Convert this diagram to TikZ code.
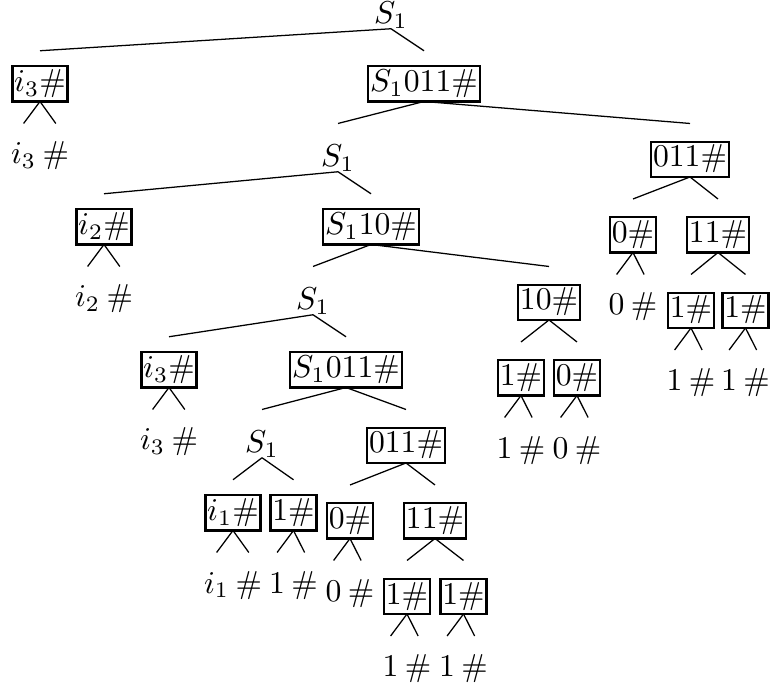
\documentclass[tikz,border=0pt]{standalone}
\usetikzlibrary{calc}
\tikzset{
  x=0.3155pt, y=-0.3155pt,
  bx/.style={draw, line width=0.75pt, inner xsep=0.6pt, inner ysep=0pt,
             text height=7.95pt, text depth=3.15pt, outer sep=0pt, anchor=base},
  tx/.style={inner sep=0pt, outer sep=0pt, anchor=base},
  br/.style={line width=0.4pt}
}
\newcommand\edg[2]{\draw[br] (#1.south) -- ($(#1.south -| #2)+(0,22)$);}
\begin{document}
\begin{tikzpicture}
\useasboundingbox (0,0) rectangle (770,687);
% level 0
\node[tx] (r) at (391,24) {$S_1$};
% level 1
\node[bx] (a) at (40,91.5) {$i_3\#$};
\node[bx] (b) at (424,91.5) {$S_1011\#$};
\edg{r}{a}\edg{r}{b}
% under a
\node[tx] (a1) at (23.6,164) {$i_3$};
\node[tx] (a2) at (55.8,164) {$\#$};
\edg{a}{a1}\edg{a}{a2}
% under b
\node[tx] (c) at (338,167) {$S_1$};
\node[bx] (d) at (690,167) {$011\#$};
\edg{b}{c}\edg{b}{d}
% under c
\node[bx] (e) at (104,234.5) {$i_2\#$};
\node[bx] (f) at (371,234.5) {$S_110\#$};
\edg{c}{e}\edg{c}{f}
% under d
\node[bx] (g) at (633,242.5) {$0\#$};
\node[bx] (h) at (718,242.5) {$11\#$};
\edg{d}{g}\edg{d}{h}
% under e
\node[tx] (e1) at (87.6,307) {$i_2$};
\node[tx] (e2) at (119.8,307) {$\#$};
\edg{e}{e1}\edg{e}{e2}
% under f
\node[tx] (k) at (313,310) {$S_1$};
\node[bx] (m) at (549,310) {$10\#$};
\edg{f}{k}\edg{f}{m}
% under g
\node[tx] (g1) at (616.6,315) {$0$};
\node[tx] (g2) at (644.1,315) {$\#$};
\edg{g}{g1}\edg{g}{g2}
% under h
\node[bx] (h1) at (691,318) {$1\#$};
\node[bx] (h2) at (745.5,318) {$1\#$};
\edg{h}{h1}\edg{h}{h2}
\node[tx] (h11) at (674.6,390.5) {$1$};
\node[tx] (h12) at (702.1,390.5) {$\#$};
\node[tx] (h21) at (729.1,390.5) {$1$};
\node[tx] (h22) at (756.6,390.5) {$\#$};
\edg{h1}{h11}\edg{h1}{h12}\edg{h2}{h21}\edg{h2}{h22}
% under k
\node[bx] (n) at (169,377.5) {$i_3\#$};
\node[bx] (p) at (346,377.5) {$S_1011\#$};
\edg{k}{n}\edg{k}{p}
% under m
\node[bx] (m1) at (521,385.5) {$1\#$};
\node[bx] (m2) at (577,385.5) {$0\#$};
\edg{m}{m1}\edg{m}{m2}
% under n
\node[tx] (n1) at (152.6,450) {$i_3$};
\node[tx] (n2) at (184.8,450) {$\#$};
\edg{n}{n1}\edg{n}{n2}
% under p
\node[tx] (q) at (262,453) {$S_1$};
\node[bx] (s) at (406,453) {$011\#$};
\edg{p}{q}\edg{p}{s}
% under m1, m2
\node[tx] (m11) at (504.6,458) {$1$};
\node[tx] (m12) at (532.1,458) {$\#$};
\node[tx] (m21) at (560.6,458) {$0$};
\node[tx] (m22) at (588.1,458) {$\#$};
\edg{m1}{m11}\edg{m1}{m12}\edg{m2}{m21}\edg{m2}{m22}
% under q
\node[bx] (t) at (233,520.5) {$i_1\#$};
\node[bx] (u) at (293.5,520.5) {$1\#$};
\edg{q}{t}\edg{q}{u}
% under s
\node[bx] (v) at (350,528.5) {$0\#$};
\node[bx] (w) at (435,528.5) {$11\#$};
\edg{s}{v}\edg{s}{w}
% under t, u
\node[tx] (t1) at (216.6,593) {$i_1$};
\node[tx] (t2) at (248.8,593) {$\#$};
\node[tx] (u1) at (277.1,593) {$1$};
\node[tx] (u2) at (304.6,593) {$\#$};
\edg{t}{t1}\edg{t}{t2}\edg{u}{u1}\edg{u}{u2}
% under v
\node[tx] (v1) at (333.6,601) {$0$};
\node[tx] (v2) at (361.1,601) {$\#$};
\edg{v}{v1}\edg{v}{v2}
% under w
\node[bx] (w1) at (407,604) {$1\#$};
\node[bx] (w2) at (463.5,604) {$1\#$};
\edg{w}{w1}\edg{w}{w2}
\node[tx] (w11) at (390.6,676.5) {$1$};
\node[tx] (w12) at (418.1,676.5) {$\#$};
\node[tx] (w21) at (447.1,676.5) {$1$};
\node[tx] (w22) at (474.6,676.5) {$\#$};
\edg{w1}{w11}\edg{w1}{w12}\edg{w2}{w21}\edg{w2}{w22}
\end{tikzpicture}
\end{document}
